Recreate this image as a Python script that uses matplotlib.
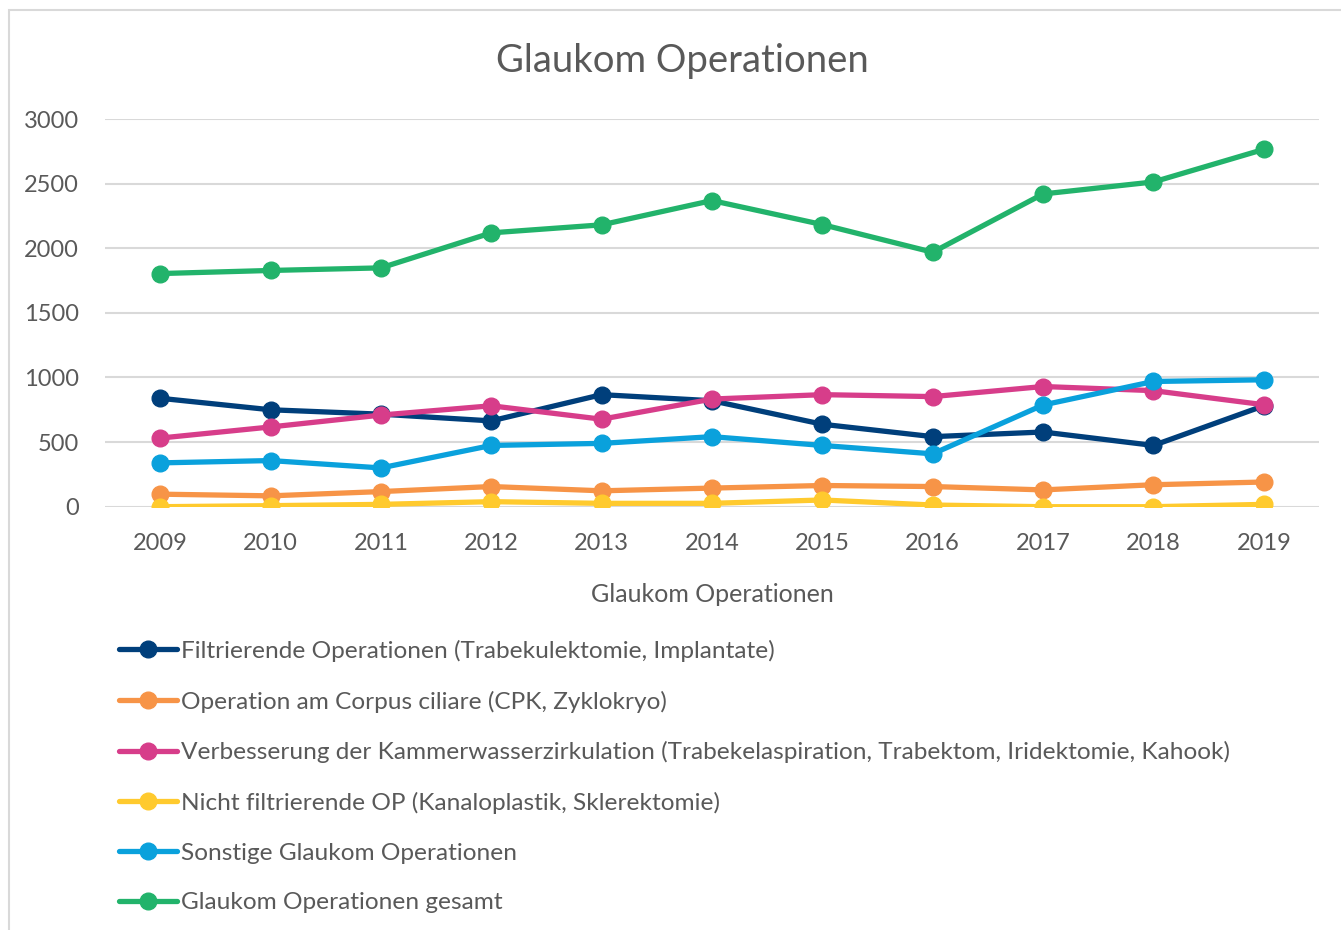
import matplotlib
matplotlib.use("Agg")
import matplotlib.pyplot as plt
from matplotlib.patches import Rectangle

plt.rcParams['font.family'] = ['Lato', 'DejaVu Sans']

years = ["2009", "2010", "2011", "2012", "2013", "2014", "2015", "2016", "2017", "2018", "2019"]
filtrierende = [839, 750, 716, 664, 867, 820, 638, 542, 578, 474, 781]
corpus_ciliare = [97, 84, 117, 156, 123, 144, 164, 156, 130, 170, 191]
kammerwasser = [531, 617, 709, 781, 677, 833, 867, 852, 930, 898, 789]
nicht_filtrierend = [0, 8, 18, 39, 26, 26, 52, 13, 0, 0, 18]
sonstige = [339, 357, 300, 474, 490, 542, 474, 409, 787, 969, 982]
gesamt = [1804, 1828, 1848, 2119, 2181, 2369, 2183, 1969, 2420, 2513, 2765]

series = [
    ("Filtrierende Operationen (Trabekulektomie, Implantate)", filtrierende, "#003F7B"),
    ("Operation am Corpus ciliare (CPK, Zyklokryo)", corpus_ciliare, "#F79447"),
    ("Verbesserung der Kammerwasserzirkulation (Trabekelaspiration, Trabektom, Iridektomie, Kahook)", kammerwasser, "#D73D8A"),
    ("Nicht filtrierende OP (Kanaloplastik, Sklerektomie)", nicht_filtrierend, "#FFCA2E"),
    ("Sonstige Glaukom Operationen", sonstige, "#0AA1DC"),
    ("Glaukom Operationen gesamt", gesamt, "#22B36B"),
]

W, H = 1341, 930
fig = plt.figure(figsize=(W / 100, H / 100), dpi=100)
fig.patches.append(Rectangle((9 / W, -0.1), 1.2, 1 - 10 / H + 0.1, transform=fig.transFigure,
                             fill=False, edgecolor="#D9D9D9", linewidth=1.5))

ax = fig.add_axes([105 / W, 1 - 506.7 / H, (1319 - 105) / W, (506.7 - 119) / H])
x = list(range(len(years)))
handles = []
for label, vals, color in series:
    h, = ax.plot(x, vals, color=color, linewidth=3.8, marker="o", markersize=12,
                 label=label, solid_capstyle="round", zorder=3)
    handles.append(h)

ax.set_xlim(-0.5, len(years) - 0.5)
ax.set_ylim(0, 3000)
ax.set_yticks([0, 500, 1000, 1500, 2000, 2500, 3000])
ax.set_xticks(x)
ax.set_xticklabels(years)
ax.grid(axis="y", color="#D9D9D9", linewidth=1.5, zorder=0)
for s in ax.spines.values():
    s.set_visible(False)
ax.tick_params(axis="both", length=0, labelsize=17, labelcolor="#595959")
ax.tick_params(axis="y", pad=19)
ax.tick_params(axis="x", pad=19)

fig.text(682 / W, 1 - 61 / H, "Glaukom Operationen", ha="center", va="center",
         fontsize=27.5, color="#595959")
fig.text(712 / W, 1 - 594 / H, "Glaukom Operationen", ha="center", va="center",
         fontsize=18, color="#595959")

leg = fig.legend(handles=handles, loc="upper left", bbox_to_anchor=(109 / W, 1 - 630 / H),
                 frameon=False, fontsize=17.6, handlelength=2.39, handletextpad=0.16,
                 labelspacing=1.17, borderaxespad=0)
for t in leg.get_texts():
    t.set_color("#595959")

fig.savefig("out.png", dpi=100)
